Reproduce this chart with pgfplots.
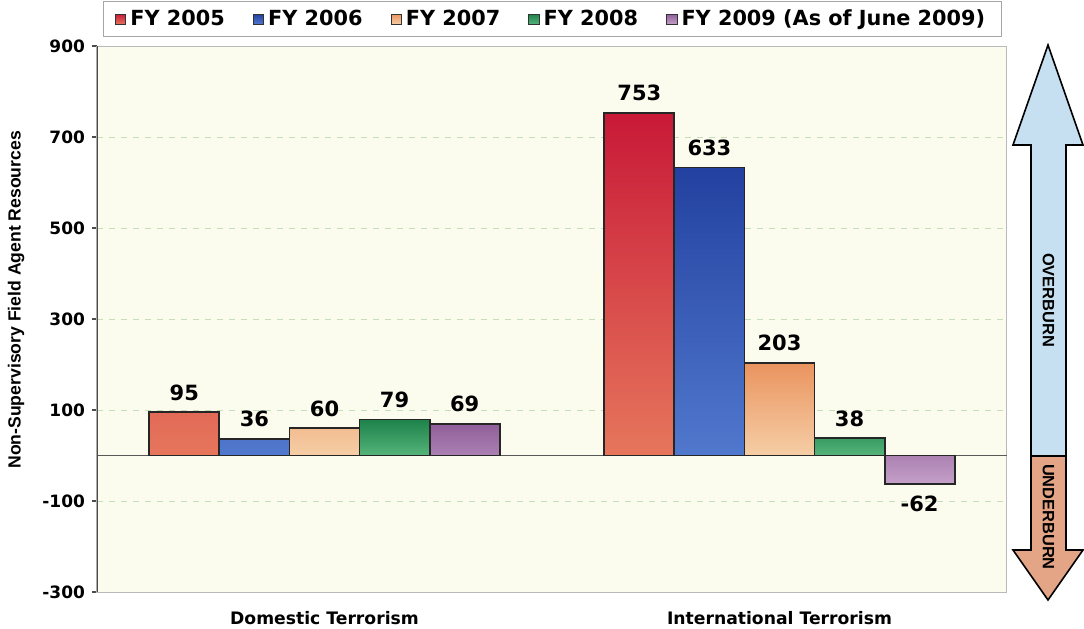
\documentclass[border=0pt]{standalone}
\usepackage{pgfplots}
\pgfplotsset{compat=1.18}
\usepackage{fontspec}
\setmainfont{DejaVu Sans}
\newfontfamily\arialfont{Liberation Sans}

\definecolor{bgcream}{RGB}{251,251,238}
\definecolor{gridgreen}{RGB}{196,222,186}
\definecolor{redtop}{RGB}{200,25,55}
\definecolor{redbot}{RGB}{230,118,92}
\definecolor{bluetop}{RGB}{35,65,160}
\definecolor{bluebot}{RGB}{80,120,205}
\definecolor{orgtop}{RGB}{234,148,95}
\definecolor{orgbot}{RGB}{246,206,166}
\definecolor{grntop}{RGB}{30,130,75}
\definecolor{grnbot}{RGB}{85,180,122}
\definecolor{purtop}{RGB}{145,95,155}
\definecolor{purbot}{RGB}{196,160,200}
\definecolor{arrblue}{RGB}{198,224,242}
\definecolor{arrsalmon}{RGB}{228,165,135}

\newcommand{\tickfont}{\fontsize{8.5}{10}\selectfont\bfseries}
\newcommand{\valfont}{\fontsize{10.5}{12}\selectfont\bfseries}
\newcommand{\catfont}{\fontsize{8.6}{10}\selectfont\bfseries}
\newcommand{\legfont}{\fontsize{10.4}{12}\selectfont\bfseries}
\newcommand{\labfont}{\arialfont\fontsize{8.8}{10}\selectfont\bfseries}

% one bar series: top colour, bottom colour
% x positions are group (0 = domestic, 1 = international) plus the bar's offset
\pgfplotsset{
  fy/.style 2 args={ybar, bar width=0.154, bar shift=0,
    draw=black!85, line width=0.9pt, top color=#1, bottom color=#2,
    legend image code/.code={\draw[draw=black!80, line width=0.5pt, top color=#1, bottom color=#2]
      (0pt,-2.6pt) rectangle (5.2pt,2.6pt);}},
}

\begin{document}
\begin{tikzpicture}
\useasboundingbox (-48.5pt,-18pt) rectangle (493.5pt,296pt);
\begin{axis}[
    at={(0,0)}, anchor=south west,
    scale only axis,
    width=455pt, height=273pt,
    xmin=-0.5, xmax=1.5,
    ymin=-300, ymax=900,
    ytick={-300,-100,...,900},
    xtick={0,1},
    xticklabels={Domestic Terrorism, International Terrorism},
    x tick label style={font=\catfont, yshift=-3.5pt},
    xtick style={draw=none},
    y tick label style={font=\tickfont},
    /pgf/number format/assume math mode=true,
    ytick pos=left,
    tick align=outside,
    major tick length=2.5pt,
    ytick style={black!70, line width=0.6pt},
    ymajorgrids,
    major grid style={draw=gridgreen, dashed, line width=0.5pt},
    extra y ticks={0},
    extra y tick labels={},
    extra y tick style={grid=major, major grid style={draw=black!65, solid, line width=0.8pt}, major tick length=0pt},
    axis line style={draw=gray!55, line width=0.5pt},
    axis background/.style={fill=bgcream},
    ylabel={Non-Supervisory Field Agent Resources},
    ylabel style={font=\labfont, at={(axis description cs:-0.089,0.535)}, anchor=center},
    nodes near coords={\pgfmathprintnumber[assume math mode=true]{\pgfplotspointmeta}},
    nodes near coords align={vertical},
    every node near coord/.append style={font=\valfont, text=black, inner sep=5.5pt},
    legend columns=5,
    legend style={at={(0.5,1)}, anchor=south, yshift=4.5pt, draw=gray!70, fill=white,
      font=\legfont, inner xsep=6pt, inner ysep=2pt,
      /tikz/every even column/.append style={column sep=12pt}},
    legend cell align=left,
]

\addplot[fy={redtop}{redbot}] coordinates {(-0.308,95) (0.692,753)};
\addplot[fy={bluetop}{bluebot}] coordinates {(-0.154,36) (0.846,633)};
\addplot[fy={orgtop}{orgbot}] coordinates {(0,60) (1,203)};
\addplot[fy={grntop}{grnbot}] coordinates {(0.154,79) (1.154,38)};
\addplot[fy={purtop}{purbot}] coordinates {(0.308,69) (1.308,-62)};

\draw[black!70, line width=0.8pt] (rel axis cs:0,0) -- (rel axis cs:0,1);

\legend{FY 2005, FY 2006, FY 2007, FY 2008, FY 2009 (As of June 2009)}
\end{axis}

% over/underburn arrow at the right
\draw[line width=0.8pt, fill=arrblue] (467pt,68pt) -- (467pt,223.5pt) -- (458pt,223.5pt)
  -- (475.5pt,273.5pt) -- (493pt,223.5pt) -- (484.5pt,223.5pt) -- (484.5pt,68pt) -- cycle;
\draw[line width=0.8pt, fill=arrsalmon] (467pt,68pt) -- (467pt,21pt) -- (458pt,21pt)
  -- (475.5pt,-4pt) -- (493pt,21pt) -- (484.5pt,21pt) -- (484.5pt,68pt) -- cycle;
\node[rotate=-90, font=\arialfont\fontsize{8.2}{10}\selectfont\bfseries] at (475.7pt,146pt) {OVERBURN};
\node[rotate=-90, font=\arialfont\fontsize{8.2}{10}\selectfont\bfseries] at (475.7pt,37.5pt) {UNDERBURN};
\end{tikzpicture}
\end{document}
